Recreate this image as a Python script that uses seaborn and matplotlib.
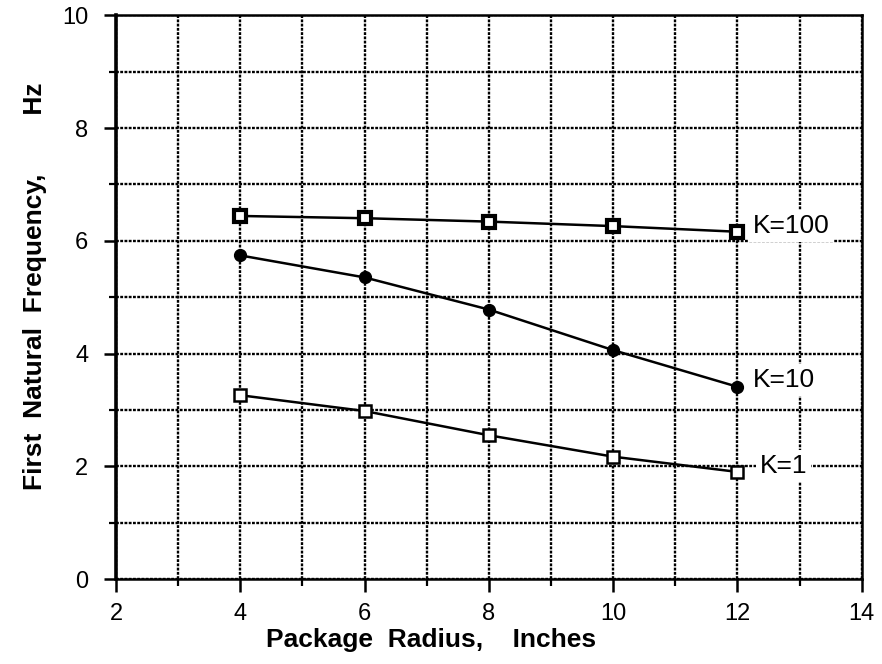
import matplotlib
matplotlib.use("Agg")
import matplotlib.pyplot as plt
import seaborn as sns
import pandas as pd
from matplotlib.ticker import MultipleLocator

radius = [4, 6, 8, 10, 12]
k100 = [6.44, 6.40, 6.34, 6.26, 6.16]
k10 = [5.74, 5.35, 4.78, 4.06, 3.41]
k1 = [3.26, 2.98, 2.55, 2.17, 1.90]
series_labels = ["K=100", "K=10", "K=1"]

sns.set_style("ticks")
plt.rcParams["font.family"] = ["Liberation Sans", "DejaVu Sans"]
plt.rcParams["text.color"] = "black"
plt.rcParams["axes.labelcolor"] = "black"
plt.rcParams["xtick.color"] = "black"
plt.rcParams["ytick.color"] = "black"

fig = plt.figure(figsize=(8.82, 6.64), dpi=100)
ax = fig.add_axes([0.1315, 0.128, 0.8455, 0.849])

styles = [
    dict(marker="s", markersize=9, markerfacecolor="white", markeredgecolor="black", markeredgewidth=3.0),
    dict(marker="o", markersize=8.5, markerfacecolor="black", markeredgecolor="black", markeredgewidth=1.0),
    dict(marker="s", markersize=8.5, markerfacecolor="white", markeredgecolor="black", markeredgewidth=1.8),
]
offsets = [(11, 4), (11, 5), (16, 4)]
for vals, lab, st, off in zip([k100, k10, k1], series_labels, styles, offsets):
    df = pd.DataFrame({"r": radius, "f": vals})
    sns.lineplot(data=df, x="r", y="f", ax=ax, color="black", linewidth=1.8, zorder=3, **st)
    ax.annotate(lab, xy=(radius[-1], vals[-1]), xytext=off, textcoords="offset points",
                ha="left", va="center", fontsize=19, zorder=4, color="black",
                bbox=dict(boxstyle="square,pad=0.15", fc="white", ec="none"))

ax.set_xlim(2, 14)
ax.set_ylim(0, 10)
ax.xaxis.set_major_locator(MultipleLocator(2))
ax.xaxis.set_minor_locator(MultipleLocator(1))
ax.yaxis.set_major_locator(MultipleLocator(2))
ax.yaxis.set_minor_locator(MultipleLocator(1))
ax.grid(True, which="both", color="black", linestyle=(0, (1.2, 0.6)), linewidth=1.7, zorder=1)
ax.set_axisbelow(True)
for s in ax.spines.values():
    s.set_visible(True)
    s.set_linewidth(1.8)
    s.set_color("black")
ax.spines["left"].set_linewidth(2.6)
ax.tick_params(axis="both", which="major", length=9, width=1.8, direction="out",
               labelsize=17, color="black", labelcolor="black")
ax.tick_params(axis="x", which="major", pad=8)
ax.tick_params(axis="y", which="major", pad=11)
ax.tick_params(axis="both", which="minor", length=5, width=1.6, direction="out", color="black")
ax.tick_params(top=False, right=False, which="both")

ax.set_xlabel("Package  Radius,    Inches", fontsize=19, fontweight="bold", color="black")
ax.xaxis.set_label_coords(0.422, -0.087)
ax.set_ylabel("First  Natural  Frequency,        Hz", fontsize=19, fontweight="bold", color="black")
ax.yaxis.set_label_coords(-0.0925, 0.52)

fig.savefig("out.png", dpi=100, facecolor="white")
